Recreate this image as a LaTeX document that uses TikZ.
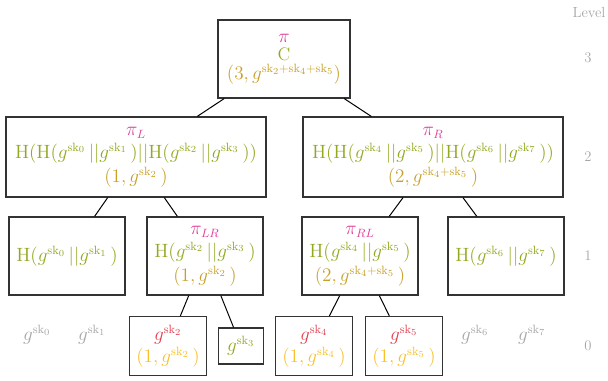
\documentclass[tikz,border=0pt]{standalone}
\usepackage{amsmath, amssymb}
\usepackage{xcolor}
\usepackage{tikz}
\usetikzlibrary{positioning}

\definecolor{piPink}{HTML}{E0409A}
\definecolor{hashGreen}{HTML}{8FAA1E}
\definecolor{aggGold}{HTML}{C8A028}
\definecolor{leafRed}{HTML}{E04050}
\definecolor{leafGold}{HTML}{F9C02A}
\definecolor{idleGray}{HTML}{A6A6A6}
\definecolor{frameGray}{HTML}{333333}

\newcommand{\gsk}[1]{g^{\mathrm{sk}_{#1}}}
\newcommand{\Hs}{\mathrm{H}}

\begin{document}
\begin{tikzpicture}[
    x=0.75pt, y=-0.75pt,
    every node/.style={font=\fontsize{13.5}{14}\selectfont},
    box/.style={draw=frameGray, line width=0.9pt, align=center, inner sep=1pt},
    rootbox/.style={box, minimum width=99pt, minimum height=58.5pt},
    midbox/.style={box, minimum width=195pt, minimum height=60pt},
    lowbox/.style={box, minimum width=87pt, minimum height=58.5pt},
    leafbox/.style={box, minimum width=57.75pt, minimum height=44.25pt},
    tinybox/.style={box, minimum width=33.75pt, minimum height=27pt},
    idle/.style={text=idleGray},
    level/.style={text=idleGray, font=\fontsize{11}{13}\selectfont}
]
\useasboundingbox (0,0) rectangle (608,381);

% level 3
\node[rootbox] (root) at (284,59)
    {{\color{piPink}$\pi$}\\{\color{hashGreen}C}\\{\color{aggGold}$(3,g^{\mathrm{sk}_2+\mathrm{sk}_4+\mathrm{sk}_5})$}};

% level 2
\node[midbox] (L) at (136,157)
    {{\color{piPink}$\pi_L$}\\[3pt]
     {\color{hashGreen}$\Hs(\Hs(\gsk{0}\,||\gsk{1}\,)||\Hs(\gsk{2}\,||\gsk{3}\,))$}\\[2pt]
     {\color{aggGold}$(1,\gsk{2}\,)$}};
\node[midbox] (R) at (433,157)
    {{\color{piPink}$\pi_R$}\\[3pt]
     {\color{hashGreen}$\Hs(\Hs(\gsk{4}\,||\gsk{5}\,)||\Hs(\gsk{6}\,||\gsk{7}\,))$}\\[2pt]
     {\color{aggGold}$(2,g^{\mathrm{sk}_4+\mathrm{sk}_5}\,)$}};

% level 1
\node[lowbox] (LL) at (67,256)
    {{\color{hashGreen}$\Hs(\gsk{0}\,||\gsk{1}\,)$}};
\node[lowbox] (LR) at (205,256)
    {{\color{piPink}$\pi_{LR}$}\\[3pt]
     {\color{hashGreen}$\Hs(\gsk{2}\,||\gsk{3}\,)$}\\[2pt]
     {\color{aggGold}$(1,\gsk{2}\,)$}};
\node[lowbox] (RL) at (360,256)
    {{\color{piPink}$\pi_{RL}$}\\[3pt]
     {\color{hashGreen}$\Hs(\gsk{4}\,||\gsk{5}\,)$}\\[2pt]
     {\color{aggGold}$(2,g^{\mathrm{sk}_4+\mathrm{sk}_5}\,)$}};
\node[lowbox] (RR) at (506,256)
    {{\color{hashGreen}$\Hs(\gsk{6}\,||\gsk{7}\,)$}};

% level 0
\node[idle] (k0) at (37,335) {$\gsk{0}$};
\node[idle] (k1) at (92,335) {$\gsk{1}$};
\node[leafbox] (k2) at (168,346)
    {{\color{leafRed}$\gsk{2}$}\\[1pt]{\color{leafGold}$(1,\gsk{2}\,)$}};
\node[tinybox] (k3) at (241,346) {{\color{hashGreen}$\gsk{3}$}};
\node[leafbox] (k4) at (314,346)
    {{\color{leafRed}$\gsk{4}$}\\[1pt]{\color{leafGold}$(1,\gsk{4}\,)$}};
\node[leafbox] (k5) at (404,346)
    {{\color{leafRed}$\gsk{5}$}\\[1pt]{\color{leafGold}$(1,\gsk{5}\,)$}};
\node[idle] (k6) at (475,335) {$\gsk{6}$};
\node[idle] (k7) at (532,335) {$\gsk{7}$};

% levels
\node[level] (lvl) at (589,12) {Level};
\node[level] (lvl3) at (588,58) {3};
\node[level] (lvl2) at (588,157) {2};
\node[level] (lvl1) at (588,256) {1};
\node[level] (lvl0) at (588,346) {0};

% edges
\draw[line width=0.75pt] (root) -- (L);
\draw[line width=0.75pt] (root) -- (R);
\draw[line width=0.75pt] (L) -- (LL);
\draw[line width=0.75pt] (L) -- (LR);
\draw[line width=0.75pt] (R) -- (RL);
\draw[line width=0.75pt] (R) -- (RR);
\draw[line width=0.75pt] (LR) -- (k2);
\draw[line width=0.75pt] (LR) -- (k3);
\draw[line width=0.75pt] (RL) -- (k4);
\draw[line width=0.75pt] (RL) -- (k5);
\end{tikzpicture}
\end{document}
